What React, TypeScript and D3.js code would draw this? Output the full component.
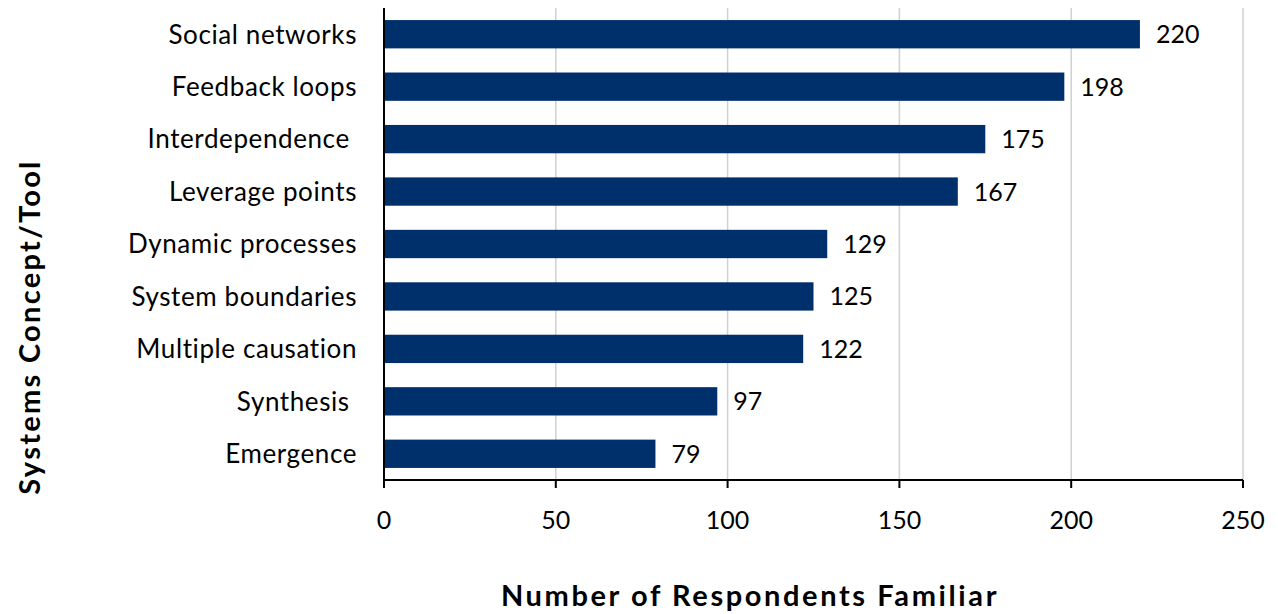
import React from "react";
import * as d3 from "d3";

const categories = [
  "Social networks",
  "Feedback loops",
  "Interdependence ",
  "Leverage points",
  "Dynamic processes",
  "System boundaries",
  "Multiple causation",
  "Synthesis ",
  "Emergence",
];
const values = [220, 198, 175, 167, 129, 125, 122, 97, 79];
const xTicks = [0, 50, 100, 150, 200, 250];
const xTitle = "Number of Respondents Familiar";
const yTitle = "Systems Concept/Tool";

const W = 1278;
const H = 614;
const FONT = "Lato, 'Open Sans', sans-serif";

export default function App() {
  const left = 384;
  const right = 1243;
  const top = 8;
  const bottom = 480;
  const x = d3.scaleLinear().domain([0, 250]).range([left, right]);
  const y = d3
    .scaleBand<string>()
    .domain(categories)
    .range([top, bottom])
    .paddingInner(0.46)
    .paddingOuter(0.23);

  return (
    <svg
      width={W}
      height={H}
      style={{ position: "absolute", left: 0, top: 0, background: "#fff" }}
      fontFamily={FONT}
    >
      {xTicks.slice(1).map((t) => (
        <line key={"g" + t} x1={x(t)} x2={x(t)} y1={top} y2={bottom} stroke="#d0d0d0" strokeWidth={1.5} />
      ))}
      {categories.map((c, i) => (
        <rect key={c} x={x(0)} y={y(c)} width={x(values[i]) - x(0)} height={y.bandwidth()} fill="#00306b" />
      ))}
      {categories.map((c, i) => (
        <text
          key={"v" + c}
          x={x(values[i]) + 16}
          y={(y(c) as number) + y.bandwidth() / 2}
          dy="0.36em"
          fontSize={25}
          fill="#000"
        >
          {values[i]}
        </text>
      ))}
      {categories.map((c) => (
        <text
          key={"l" + c}
          x={357}
          y={(y(c) as number) + y.bandwidth() / 2}
          dy="0.36em"
          fontSize={26}
          letterSpacing={0.6}
          textAnchor="end"
          fill="#000"
          style={{ whiteSpace: "pre" }}
        >
          {c}
        </text>
      ))}
      <line x1={left} x2={left} y1={top} y2={bottom} stroke="#000" strokeWidth={2} />
      <line x1={left} x2={right} y1={bottom} y2={bottom} stroke="#000" strokeWidth={2} />
      {xTicks.map((t) => (
        <g key={"t" + t}>
          <line x1={x(t)} x2={x(t)} y1={bottom} y2={bottom + 8} stroke="#000" strokeWidth={2} />
          <text x={x(t)} y={520} dy="0.36em" fontSize={25} textAnchor="middle" fill="#000">
            {t}
          </text>
        </g>
      ))}
      <text
        x={750}
        y={596}
        dy="0.36em"
        fontSize={29}
        letterSpacing={2.6}
        fontWeight="bold"
        textAnchor="middle"
        fill="#000"
      >
        {xTitle}
      </text>
      <text
        transform={`translate(30,327) rotate(-90)`}
        dy="0.36em"
        fontSize={29}
        letterSpacing={2.3}
        fontWeight="bold"
        textAnchor="middle"
        fill="#000"
      >
        {yTitle}
      </text>
    </svg>
  );
}
